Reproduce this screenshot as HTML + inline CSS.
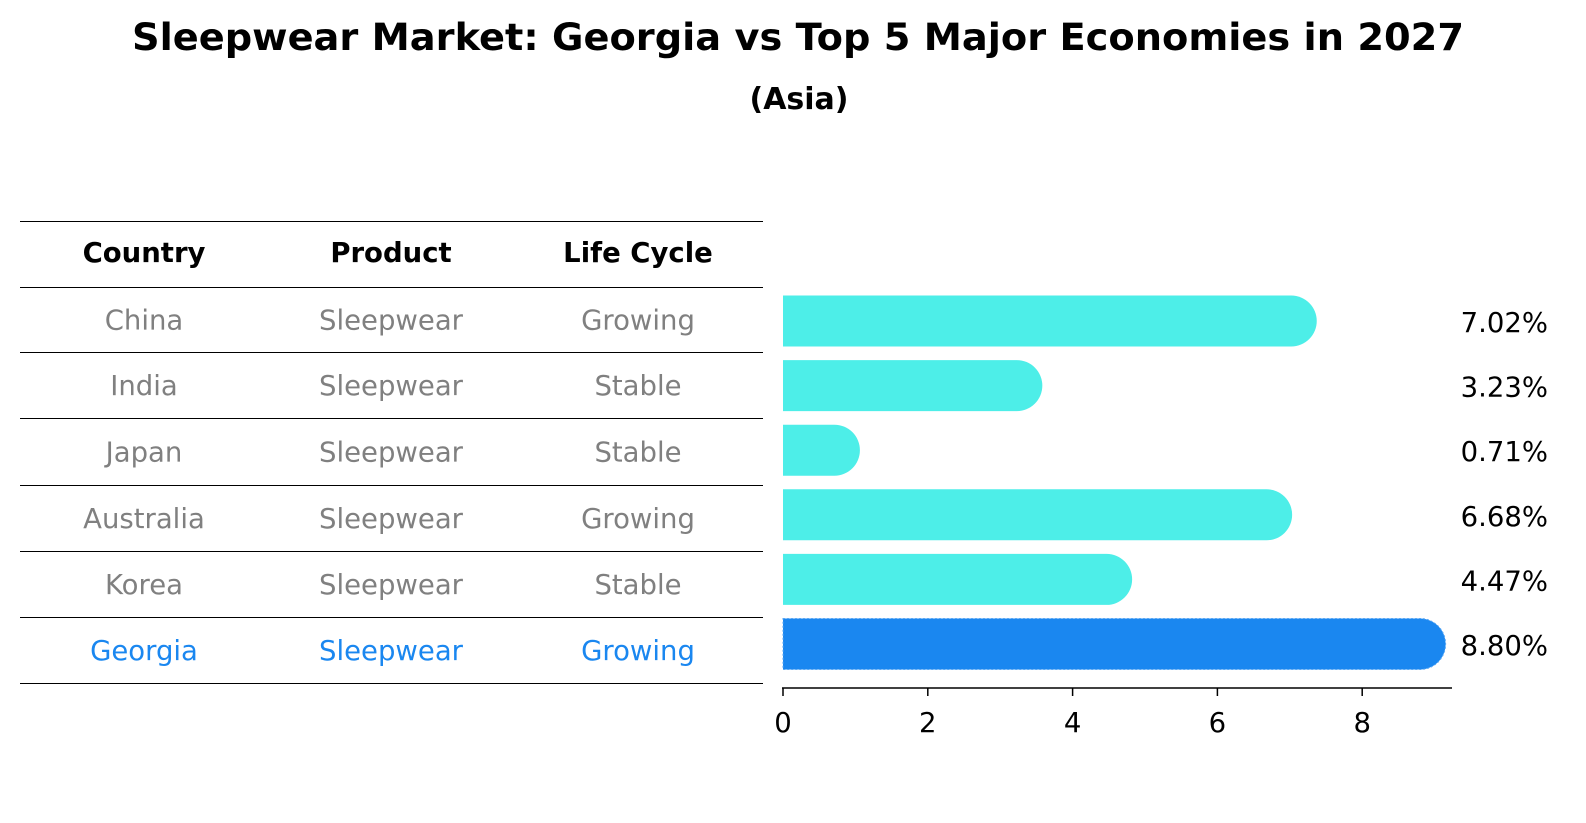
<!DOCTYPE html>
<html><head><meta charset="utf-8"><style>
body{margin:0;background:#fff;font-family:"Liberation Sans","DejaVu Sans",sans-serif;}
#wrap{position:relative;width:1586px;height:823px;overflow:hidden;background:#fff}
</style></head><body>
<div id="wrap">
<svg id="svg" width="1586" height="823" xmlns="http://www.w3.org/2000/svg">
<text x="798" y="50" text-anchor="middle" font-size="37" font-weight="bold" font-family="DejaVu Sans, sans-serif" textLength="1332" lengthAdjust="spacingAndGlyphs">Sleepwear Market: Georgia vs Top 5 Major Economies in 2027</text>
<text x="799" y="109" text-anchor="middle" font-size="30" font-weight="bold" font-family="DejaVu Sans, sans-serif">(Asia)</text>
<g id="table"></g>
<g id="bars"></g>
</svg>
</div>
<script>
const countries=["China","India","Japan","Australia","Korea","Georgia"];
const products=["Sleepwear","Sleepwear","Sleepwear","Sleepwear","Sleepwear","Sleepwear"];
const lifecycles=["Growing","Stable","Stable","Growing","Stable","Growing"];
const values=[7.02,3.23,0.71,6.68,4.47,8.80];
const valueLabels=["7.02%","3.23%","0.71%","6.68%","4.47%","8.80%"];
const ticks=[0,2,4,6,8];
const highlight="Georgia";

const NS="http://www.w3.org/2000/svg";
function mk(tag,attrs,parent){const e=document.createElementNS(NS,tag);for(const k in attrs)e.setAttribute(k,attrs[k]);parent.appendChild(e);return e;}
const xScale=v=>783+v*72.4;
const rowY=i=>321+i*64.6;
const font="DejaVu Sans, sans-serif";
const fs=27.5;

// table
const tbl=document.getElementById('table');
const lineYs=[221,287,352,418,485,551,617,683];
lineYs.forEach(y=>{const l=mk('line',{x1:20,x2:763,y1:y+0.5,y2:y+0.5,stroke:'#000','stroke-width':1},tbl);

});
const colX=[144,391,638];
["Country","Product","Life Cycle"].forEach((h,j)=>{const t=mk('text',{x:colX[j],y:262,'text-anchor':'middle','font-size':fs,'font-weight':'bold','font-family':font},tbl);t.textContent=h;

});
countries.forEach((c,i)=>{
  const col=c===highlight?'#1a87f0':'#808080';
  const cy=(lineYs[i+1]+lineYs[i+2])/2+10;
  [c,products[i],lifecycles[i]].forEach((v,j)=>{
    const t=mk('text',{x:colX[j],y:cy,'text-anchor':'middle','font-size':fs,fill:col,'font-family':font},tbl);t.textContent=v;
    
    
  });
});

// bars
const g=document.getElementById('bars');
const h=51,r=25.5;
values.forEach((v,i)=>{
  const hl=countries[i]===highlight;
  const col=hl?'#1a87f0':'#4deee8';
  const x0=xScale(0),x1=xScale(v),y=rowY(i)-h/2;
  const attrs={d:`M${x0},${y} H${x1} A${r},${r} 0 0 1 ${x1},${y+h} H${x0} Z`,fill:col};
  if(hl){attrs.stroke='#5aa8f5';attrs['stroke-width']=1;attrs['stroke-dasharray']='2,2';}
  const p=mk('path',attrs,g);
  
  
  const t=mk('text',{x:1548,y:rowY(i)+11,'text-anchor':'end','font-size':fs,'font-family':font},g);t.textContent=valueLabels[i];
  
  
});
const ax=mk('line',{x1:782,x2:1452,y1:688,y2:688,stroke:'#000','stroke-width':1.5},g);


ticks.forEach(tv=>{
  const x=xScale(tv);
  const tl=mk('line',{x1:x,x2:x,y1:688,y2:696,stroke:'#000','stroke-width':1.5},g);
  
  
  const t=mk('text',{x:x,y:732,'text-anchor':'middle','font-size':fs,'font-family':font},g);t.textContent=tv;
  
  
});
</script>
</body></html>
